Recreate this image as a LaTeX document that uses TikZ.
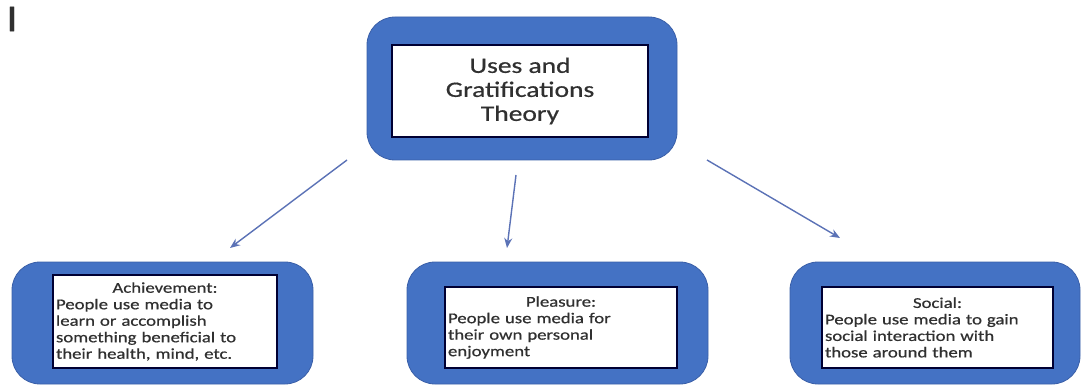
\documentclass[tikz,border=0pt]{standalone}
\usepackage{fontspec}
\setmainfont{Carlito}[FakeStretch=1.25, FakeBold=0.6]
\usetikzlibrary{arrows.meta}
\definecolor{boxblue}{HTML}{4472C4}
\definecolor{boxedge}{HTML}{3A5FA8}
\definecolor{arrowblue}{HTML}{5B72B6}
\definecolor{textgrey}{HTML}{303030}
\begin{document}
\begin{tikzpicture}[
    x=1pt, y=-1pt,
    outer/.style={rounded corners=28pt, fill=boxblue, draw=boxedge, line width=0.8pt, inner sep=0pt},
    inner/.style={fill=white, draw=black!80!blue, line width=1.5pt, inner sep=3pt, text=textgrey},
    small/.style={font=\fontsize{15}{16.5}\selectfont, align=left},
    link/.style={->, arrowblue, line width=1.4pt},
    >={Stealth[length=10pt, width=8pt]}
  ]
  \useasboundingbox (0,0) rectangle (1083,387);
  \node[text=textgrey, font=\fontsize{38}{40}\selectfont] (mark) at (12,19) {I};
  % top box
  \node[outer, minimum width=310pt, minimum height=143pt] (theory) at (522,88.5) {};
  \node[inner, minimum width=256pt, minimum height=92pt, align=center,
        font=\fontsize{22}{24}\selectfont] (theorytext) at (520,91)
        {Uses and\\Gratifications\\Theory};
  % bottom boxes
  \node[outer, minimum width=301pt, minimum height=122pt] (achieve) at (162.5,323) {};
  \node[inner, small, text width=218pt, minimum height=93pt] (achievetext) at (165,321.5)
        {\hfill Achievement:\hfill\null\\People use media to\\learn or accomplish\\something beneficial to\\their health, mind, etc.};
  \node[outer, minimum width=301pt, minimum height=122pt] (pleasure) at (557.5,323) {};
  \node[inner, small, text width=226pt, minimum height=81pt] (pleasuretext) at (561,327.5)
        {\hfill Pleasure:\hfill\null\\People use media for\\their own personal\\enjoyment};
  \node[outer, minimum width=290pt, minimum height=122pt] (social) at (935,323) {};
  \node[inner, small, text width=225pt, minimum height=81pt] (socialtext) at (937.5,327.5)
        {\hfill Social:\hfill\null\\People use media to gain\\social interaction with\\those around them};
  % arrows
  \coordinate (l1) at (347,160);
  \coordinate (l2) at (230,248);
  \coordinate (m1) at (516,175);
  \coordinate (m2) at (507,248);
  \coordinate (r1) at (707,160);
  \coordinate (r2) at (840,238);
  \draw[link] (l1) -- (l2);
  \draw[link] (m1) -- (m2);
  \draw[link] (r1) -- (r2);
\end{tikzpicture}
\end{document}
